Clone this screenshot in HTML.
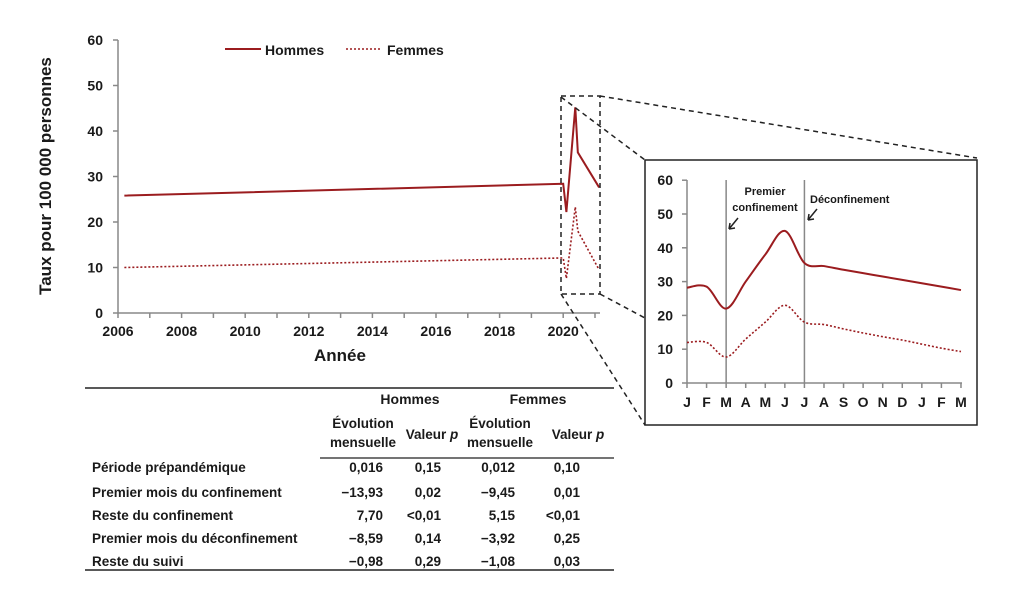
<!DOCTYPE html>
<html><head><meta charset="utf-8"><style>
body{margin:0;background:#fff;}
svg{display:block;font-family:"Liberation Sans",sans-serif;font-weight:bold;}
</style></head><body>
<svg id="s" width="1026" height="609" viewBox="0 0 1026 609">
<g id="main"></g>
<g id="zoom"></g>
<g id="inset"></g>
<g id="table"></g>
</svg>
<script>
const mainYears=[2006.2,2020.0,2020.1,2020.38,2020.46,2021.13];
const mainHommes=[25.8,28.4,22.2,45.2,35.3,27.6];
const mainFemmes=[10.0,12.1,7.6,23.3,18.0,9.5];
const mainYTicks=[0,10,20,30,40,50,60];
const mainXLabels=[2006,2008,2010,2012,2014,2016,2018,2020];
const months=["J","F","M","A","M","J","J","A","S","O","N","D","J","F","M"];
const insetHommes=[28.2,28.5,22.0,30.0,38.0,45.0,35.5,34.6,33.5,32.5,31.5,30.5,29.5,28.5,27.5];
const insetFemmes=[12.0,12.0,7.7,13.0,18.0,23.0,18.0,17.3,16.0,14.8,13.7,12.7,11.5,10.3,9.3];
const insetYTicks=[0,10,20,30,40,50,60];
const tableRows=["Période prépandémique","Premier mois du confinement","Reste du confinement","Premier mois du déconfinement","Reste du suivi"];
const colHEvol=["0,016","\u221213,93","7,70","\u22128,59","\u22120,98"];
const colHP=["0,15","0,02","<0,01","0,14","0,29"];
const colFEvol=["0,012","\u22129,45","5,15","\u22123,92","\u22121,08"];
const colFP=["0,10","0,01","<0,01","0,25","0,03"];

const NS="http://www.w3.org/2000/svg";
function mk(parent,tag,attrs,text){const e=document.createElementNS(NS,tag);for(const k in attrs)e.setAttribute(k,attrs[k]);if(text!==undefined)e.textContent=text;parent.appendChild(e);return e;}
const RED="#9b1c1f",GR="#888",TX="#1a1a1a";
// main
const M=document.getElementById('main');
const mx=v=>118+(v-2006)*31.8, my=v=>313-v*4.55;
let e=mk(M,'line',{x1:118,y1:40,x2:118,y2:313,stroke:GR,'stroke-width':1.5});

e=mk(M,'line',{x1:118,y1:313,x2:600,y2:313,stroke:GR,'stroke-width':1.5});

mainYTicks.forEach(t=>{mk(M,'line',{x1:113,x2:118,y1:my(t),y2:my(t),stroke:GR,'stroke-width':1.5});
 e=mk(M,'text',{x:103,y:my(t)+5,'text-anchor':'end','font-size':14,fill:TX},t);
 });
for(let y=2006;y<=2021;y++){mk(M,'line',{x1:mx(y),x2:mx(y),y1:313,y2:318,stroke:GR,'stroke-width':1.5});}
mainXLabels.forEach(y=>{e=mk(M,'text',{x:mx(y),y:336,'text-anchor':'middle','font-size':14,fill:TX},y);
 });
e=mk(M,'text',{x:340,y:361,'text-anchor':'middle','font-size':17,fill:TX},'Année');

e=mk(M,'text',{transform:'translate(51,176) rotate(-90)','text-anchor':'middle','font-size':17,fill:TX},'Taux pour 100 000 personnes');

function pts(xs,ys,fx,fy){return xs.map((x,i)=>fx(x)+','+fy(ys[i])).join(' ');}
e=mk(M,'polyline',{points:pts(mainYears,mainHommes,mx,my),fill:'none',stroke:RED,'stroke-width':2});

e=mk(M,'polyline',{points:pts(mainYears,mainFemmes,mx,my),fill:'none',stroke:RED,'stroke-width':1.6,'stroke-dasharray':'2,2'});

// legend
mk(M,'line',{x1:225,x2:261,y1:49,y2:49,stroke:RED,'stroke-width':2});
e=mk(M,'text',{x:265,y:55,'font-size':14,fill:TX},'Hommes');

mk(M,'line',{x1:346,x2:382,y1:49,y2:49,stroke:RED,'stroke-width':1.6,'stroke-dasharray':'2,2'});
e=mk(M,'text',{x:387,y:55,'font-size':14,fill:TX},'Femmes');

// zoom indicator
const Z=document.getElementById('zoom');
const dz={fill:'none',stroke:'#222','stroke-width':1.5,'stroke-dasharray':'5,4'};
mk(Z,'rect',Object.assign({x:561,y:96,width:39,height:198},dz));
mk(Z,'line',Object.assign({x1:561,y1:97,x2:645,y2:160},dz));
mk(Z,'line',Object.assign({x1:600,y1:96,x2:977,y2:158},dz));
mk(Z,'line',Object.assign({x1:561,y1:294,x2:645,y2:425},dz));
mk(Z,'line',Object.assign({x1:600,y1:294,x2:645,y2:318},dz));
// inset
const I=document.getElementById('inset');
e=mk(I,'rect',{x:645,y:160,width:332,height:265,fill:'#fff',stroke:'#222','stroke-width':1.5});

const ix=i=>687+i*19.57, iy=v=>383-v*3.38;
mk(I,'line',{x1:687,y1:180,x2:687,y2:383,stroke:GR,'stroke-width':1.5});
mk(I,'line',{x1:687,y1:383,x2:962,y2:383,stroke:GR,'stroke-width':1.5});
insetYTicks.forEach(t=>{mk(I,'line',{x1:682,x2:687,y1:iy(t),y2:iy(t),stroke:GR,'stroke-width':1.5});
 e=mk(I,'text',{x:673,y:iy(t)+5,'text-anchor':'end','font-size':14,fill:TX},t);
 });
months.forEach((m,i)=>{mk(I,'line',{x1:ix(i),x2:ix(i),y1:383,y2:388,stroke:GR,'stroke-width':1.5});
 e=mk(I,'text',{x:ix(i),y:407,'text-anchor':'middle','font-size':14,fill:TX},m);
 });
mk(I,'line',{x1:ix(2),x2:ix(2),y1:180,y2:383,stroke:GR,'stroke-width':1.5});
mk(I,'line',{x1:ix(6),x2:ix(6),y1:180,y2:383,stroke:GR,'stroke-width':1.5});
mk(I,'text',{x:765,y:195,'text-anchor':'middle','font-size':11,fill:TX},'Premier');
mk(I,'text',{x:765,y:211,'text-anchor':'middle','font-size':11,fill:TX},'confinement');
mk(I,'text',{x:810,y:203,'font-size':11,fill:TX},'Déconfinement');
mk(I,'path',{d:'M738,218 L729,229 M729,229 l1,-6 M729,229 l6,-1',stroke:'#222','stroke-width':1.5,fill:'none'});
mk(I,'path',{d:'M817,209 L808,220 M808,220 l1,-6 M808,220 l6,-1',stroke:'#222','stroke-width':1.5,fill:'none'});
function smooth(vals){const p=vals.map((v,i)=>[ix(i),iy(v)]);let d='M'+p[0].join(',');
 for(let i=0;i<p.length-1;i++){const p0=p[Math.max(0,i-1)],p1=p[i],p2=p[i+1],p3=p[Math.min(p.length-1,i+2)];
 const c1=[p1[0]+(p2[0]-p0[0])/6,p1[1]+(p2[1]-p0[1])/6],c2=[p2[0]-(p3[0]-p1[0])/6,p2[1]-(p3[1]-p1[1])/6];
 d+=' C'+c1.join(',')+' '+c2.join(',')+' '+p2.join(',');}return d;}
e=mk(I,'path',{d:smooth(insetHommes),fill:'none',stroke:RED,'stroke-width':2});

e=mk(I,'path',{d:smooth(insetFemmes),fill:'none',stroke:RED,'stroke-width':1.6,'stroke-dasharray':'2,2'});

// table
const T=document.getElementById('table');
mk(T,'line',{x1:85,x2:614,y1:388,y2:388,stroke:'#222','stroke-width':1.5});
mk(T,'line',{x1:320,x2:614,y1:458,y2:458,stroke:'#222','stroke-width':1.2});
mk(T,'line',{x1:85,x2:614,y1:570,y2:570,stroke:'#222','stroke-width':1.5});
const fs=13.5;
mk(T,'text',{x:410,y:404,'text-anchor':'middle','font-size':14,fill:TX},'Hommes');
mk(T,'text',{x:538,y:404,'text-anchor':'middle','font-size':14,fill:TX},'Femmes');
[[363,'Évolution','mensuelle'],[500,'Évolution','mensuelle']].forEach(h=>{
 mk(T,'text',{x:h[0],y:428,'text-anchor':'middle','font-size':fs,fill:TX},h[1]);
 mk(T,'text',{x:h[0],y:447,'text-anchor':'middle','font-size':fs,fill:TX},h[2]);});
[432,578].forEach(x=>{const t=mk(T,'text',{x:x,y:439,'text-anchor':'middle','font-size':fs,fill:TX},'Valeur ');
 mk(t,'tspan',{'font-style':'italic'},'p');});
const rowY=[472,497,520,543,566];
tableRows.forEach((r,i)=>{
 e=mk(T,'text',{x:92,y:rowY[i],'font-size':fs,fill:TX},r);
 
 mk(T,'text',{x:383,y:rowY[i],'text-anchor':'end','font-size':fs,fill:TX},colHEvol[i]);
 mk(T,'text',{x:441,y:rowY[i],'text-anchor':'end','font-size':fs,fill:TX},colHP[i]);
 mk(T,'text',{x:515,y:rowY[i],'text-anchor':'end','font-size':fs,fill:TX},colFEvol[i]);
 mk(T,'text',{x:580,y:rowY[i],'text-anchor':'end','font-size':fs,fill:TX},colFP[i]);
});
</script>
</body></html>
